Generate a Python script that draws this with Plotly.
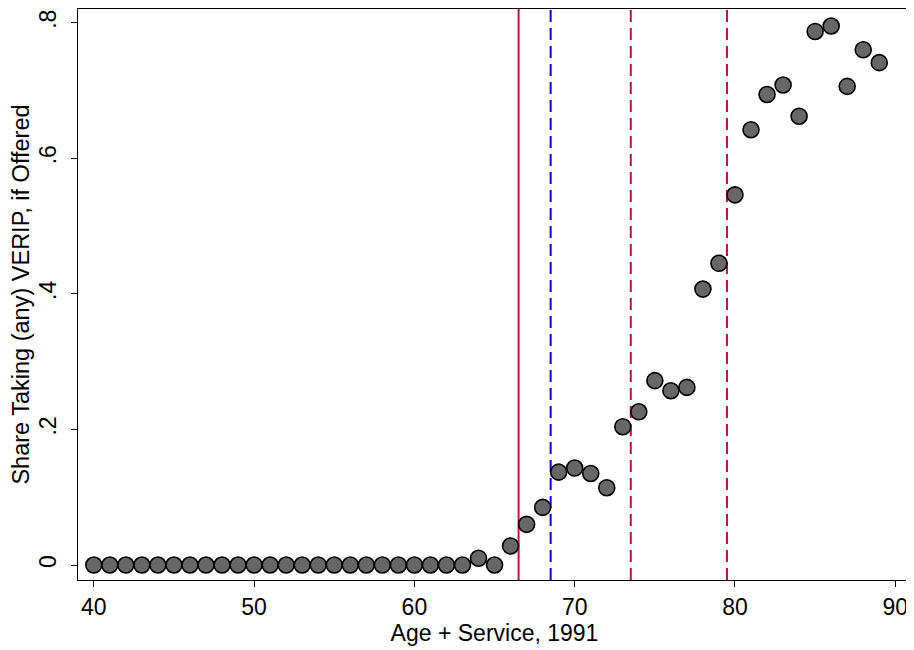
import plotly.graph_objects as go

# Data
age_service = list(range(40, 90))
share_taking = [0.0] * 24 + [0.010, 0.0, 0.028, 0.060, 0.085, 0.137, 0.143, 0.135,
                             0.114, 0.204, 0.226, 0.272, 0.257, 0.262, 0.407, 0.445,
                             0.546, 0.642, 0.694, 0.708, 0.662, 0.787, 0.795, 0.706,
                             0.760, 0.741]

vline_x = [66.5, 68.5, 73.5, 79.5]
vline_colors = ["#C8103C", "#0000FF", "#C8103C", "#C8103C"]
vline_dash = ["solid", "12px,6px", "12px,6px", "12px,6px"]

x_ticks = [40, 50, 60, 70, 80, 90]
y_ticks = [0, 0.2, 0.4, 0.6, 0.8]
y_ticktext = ["0", ".2", ".4", ".6", ".8"]

FONT = "Liberation Sans, Arial, sans-serif"

fig = go.Figure()
fig.add_trace(go.Scatter(
    x=age_service, y=share_taking, mode="markers",
    marker=dict(size=16, color="#676767", line=dict(color="black", width=1.6)),
    showlegend=False,
))

for xv, col, dash in zip(vline_x, vline_colors, vline_dash):
    fig.add_shape(type="line", x0=xv, x1=xv, y0=0, y1=1, xref="x", yref="paper",
                  line=dict(color=col, width=2, dash=dash), layer="below")

# The page body adds an 8px offset, so the figure is sized to fit the window
fig.update_layout(
    width=906, height=642,
    margin=dict(l=70, r=3, t=1, b=70),
    paper_bgcolor="white", plot_bgcolor="white",
    font=dict(family=FONT, size=23, color="black"),
    xaxis=dict(
        range=[39.014, 90.98], tickvals=x_ticks, ticks="outside", ticklen=6,
        tickcolor="black", showline=True, linecolor="black", linewidth=1,
        mirror=True, showgrid=False, zeroline=False, automargin=False,
        title=dict(text="Age + Service, 1991", standoff=0, font=dict(size=23)),
        tickfont=dict(size=23),
    ),
    yaxis=dict(
        range=[-0.0221, 0.8201], tickvals=y_ticks, ticktext=y_ticktext,
        ticks="outside", ticklen=6, tickcolor="black", tickangle=-90,
        ticklabelstandoff=6,
        showline=True, linecolor="black", linewidth=1, mirror=True,
        showgrid=False, zeroline=False, automargin=False,
        title=dict(text="Share Taking (any) VERIP, if Offered", standoff=2, font=dict(size=23.5)),
        tickfont=dict(size=23),
    ),
)

fig.write_html("out.html")
